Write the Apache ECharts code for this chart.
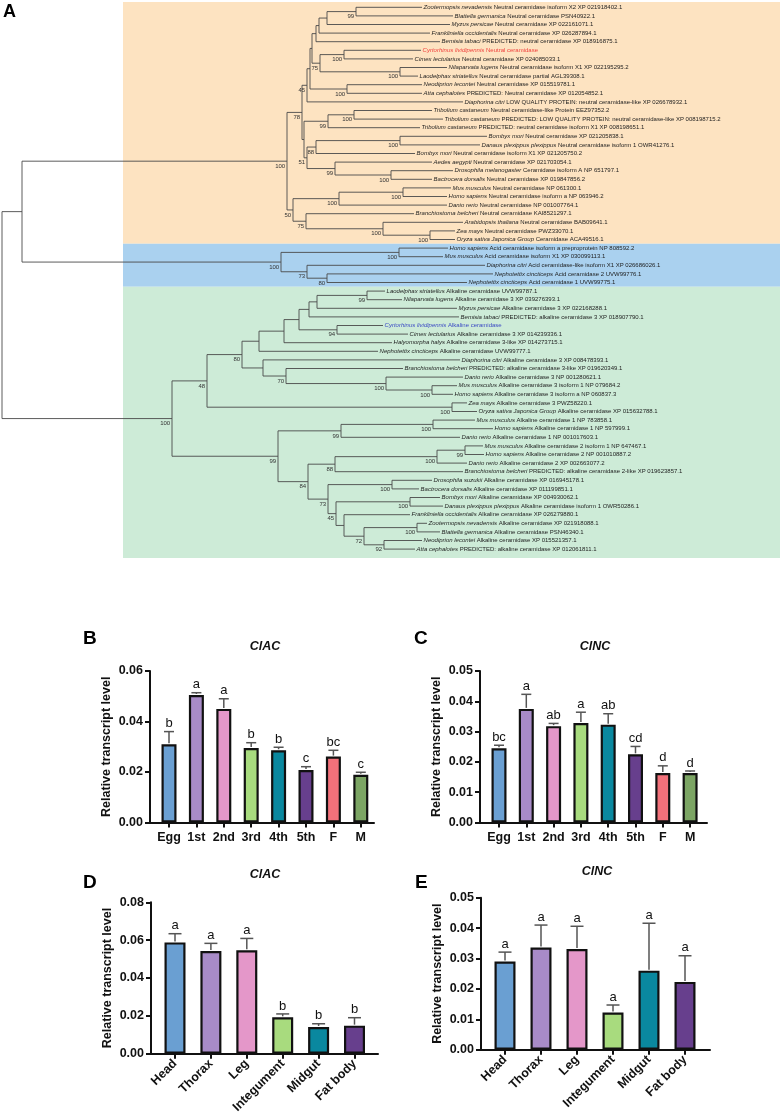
<!DOCTYPE html>
<html>
<head>
<meta charset="utf-8">
<title>Ceramidase phylogeny and expression</title>
<script src="https://cdn.jsdelivr.net/npm/echarts@6.0.0/dist/echarts.min.js"></script>
<style>
html,body{margin:0;padding:0;background:#ffffff;}
#chart{width:782px;height:1116px;}
</style>
</head>
<body>
<div id="chart"></div>
<script>
// ================= Panel A : phylogeny data =================
const leafSpecies = [
  'Zootermopsis nevadensis','Blattella germanica','Myzus persicae','Frankliniella occidentalis','Bemisia tabaci',
  'Cyrtorhinus lividipennis','Cimex lectularius','Nilaparvata lugens','Laodelphax striatellus','Neodiprion lecontei',
  'Atta cephalotes','Diaphorina citri','Tribolium castaneum','Tribolium castaneum','Tribolium castaneum',
  'Bombyx mori','Danaus plexippus plexippus','Bombyx mori','Aedes aegypti','Drosophila melanogaster',
  'Bactrocera dorsalis','Mus musculus','Homo sapiens','Danio rerio','Branchiostoma belcheri',
  'Arabidopsis thaliana','Zea mays','Oryza sativa Japonica Group',
  'Homo sapiens','Mus musculus','Diaphorina citri','Nephotettix cincticeps','Nephotettix cincticeps',
  'Laodelphax striatellus','Nilaparvata lugens','Myzus persicae','Bemisia tabaci','Cyrtorhinus lividipennis',
  'Cimex lectularius','Halyomorpha halys','Nephotettix cincticeps','Diaphorina citri','Branchiostoma belcheri',
  'Danio rerio','Mus musculus','Homo sapiens','Zea mays','Oryza sativa Japonica Group',
  'Mus musculus','Homo sapiens','Danio rerio','Mus musculus','Homo sapiens',
  'Danio rerio','Branchiostoma belcheri','Drosophila suzukii','Bactrocera dorsalis','Bombyx mori',
  'Danaus plexippus plexippus','Frankliniella occidentalis','Zootermopsis nevadensis','Blattella germanica','Neodiprion lecontei',
  'Atta cephalotes'
];
const leafDesc = [
  'Neutral ceramidase isoform X2 XP 021918402.1','Neutral ceramidase PSN40922.1','Neutral ceramidase XP 022161071.1',
  'Neutral ceramidase XP 026287894.1','PREDICTED: neutral ceramidase XP 018916875.1','Neutral ceramidase',
  'Neutral ceramidase XP 024085033.1','Neutral ceramidase isoform X1 XP 022195295.2','Neutral ceramidase partial AGL39308.1',
  'Neutral ceramidase XP 015519781.1','PREDICTED: Neutral ceramidase XP 012054852.1',
  'LOW QUALITY PROTEIN: neutral ceramidase-like XP 026678932.1','Neutral ceramidase-like Protein EEZ97352.2',
  'PREDICTED: LOW QUALITY PROTEIN: neutral ceramidase-like XP 008198715.2','PREDICTED: neutral ceramidase isoform X1 XP 008198651.1',
  'Neutral ceramidase XP 021205838.1','Neutral ceramidase isoform 1 OWR41276.1','Neutral ceramidase isoform X1 XP 021205750.2',
  'Neutral ceramidase XP 021703054.1','Ceramidase isoform A NP 651797.1','Neutral ceramidase XP 019847856.2',
  'Neutral ceramidase NP 061300.1','Neutral ceramidase isoform a NP 063946.2','Neutral ceramidase NP 001007764.1',
  'Neutral ceramidase KAI8521297.1','Neutral ceramidase BAB09641.1','Neutral ceramidase PWZ33070.1','Ceramidase ACA49516.1',
  'Acid ceramidase isoform a preproprotein NP 808592.2','Acid ceramidase isoform X1 XP 030099113.1',
  'Acid ceramidase-like isoform X1 XP 026686026.1','Acid ceramidase 2 UVW99776.1','Acid ceramidase 1 UVW99775.1',
  'Alkaline ceramidase UVW99787.1','Alkaline ceramidase 3 XP 039276393.1','Alkaline ceramidase 3 XP 022168288.1',
  'PREDICTED: alkaline ceramidase 3 XP 018907790.1','Alkaline ceramidase','Alkaline ceramidase 3 XP 014239336.1',
  'Alkaline ceramidase 3-like XP 014273715.1','Alkaline ceramidase UVW99777.1','Alkaline ceramidase 3 XP 008478393.1',
  'PREDICTED: alkaline ceramidase 3-like XP 019620349.1','Alkaline ceramidase 3 NP 001280621.1',
  'Alkaline ceramidase 3 isoform 1 NP 079684.2','Alkaline ceramidase 3 isoform a NP 060837.3','Alkaline ceramidase 3 PWZ58220.1',
  'Alkaline ceramidase XP 015632788.1','Alkaline ceramidase 1 NP 783858.1','Alkaline ceramidase 1 NP 597999.1',
  'Alkaline ceramidase 1 NP 001017603.1','Alkaline ceramidase 2 isoform 1 NP 647467.1','Alkaline ceramidase 2 NP 001010887.2',
  'Alkaline ceramidase 2 XP 002663077.2','PREDICTED: alkaline ceramidase 2-like XP 019623857.1',
  'Alkaline ceramidase XP 016945178.1','Alkaline ceramidase XP 011199851.1','Alkaline ceramidase XP 004930062.1',
  'Alkaline ceramidase isoform 1 OWR50286.1','Alkaline ceramidase XP 026279880.1','Alkaline ceramidase XP 021918088.1',
  'Alkaline ceramidase PSN46340.1','Alkaline ceramidase XP 015521357.1','PREDICTED: alkaline ceramidase XP 012061811.1'
];
const highlightLeaves = {5:'#f0433f', 37:'#3c4bc4'};

// Newick pieces: leaves are indices into the arrays above, branch lengths in display units,
// internal labels are bootstrap values.
const nwNeutralW  = '(((((0:66,1:97)99:29,2:123):8,3:111):3,4:124):4,((5:77,6:69)100:24,(7:47,8:18)100:80)75:8):2';
const nwNeutral45 = `((${nwNeutralW},(9:75,10:75)100:37):3,11:156)45:5`;
const nwNeutralTL = '(((12:78,13:89)100:26,14:92)99:24,(((15:87,16:80)100:84,17:99)88:9,(18:97,(19:62,20:41)100:56)99:28)51:3):2';
const nwNeutral50 = '(((21:48,22:44)100:64,23:108)100:46,(24:108,(25:80,(26:25,27:25)100:47)100:77)75:13)50:6';
const nwNeutral   = `((${nwNeutral45},${nwNeutralTL})78:15,${nwNeutral50})100:265`;
const nwAcid      = '((28:49,29:44)100:118,(30:178,(31:166,32:140)80:20)73:26)100:259';
const nwAlk259    = '((((((33:18,34:35)99:50,35:140):8,36:150):10,(37:46,38:71)94:38):15,39:108):25,40:119):17';
const nwAlk263    = '(41:197,(42:117,(43:77,(44:25,45:21)100:46)100:100)70:23):21';
const nwAlk48     = `((${nwAlk259},${nwAlk263})80:35,(46:15,47:25)100:245)48:35`;
const nwAlk99     = '((48:42,49:60)100:92,50:119)99:63';
const nwAlk88     = '(((51:18,52:19)99:28,53:30)100:102,54:128)88:27';
const nwAlk73     = '((55:40,56:27)100:64,((57:30,58:33)100:74,(59:66,((60:10,61:23)100:53,(62:38,63:31)92:20)72:20):8)45:8)73:20';
const nwAlkaline  = `(${nwAlk48},(${nwAlk99},(${nwAlk88},${nwAlk73})84:30)99:106)100:170`;
const newickTree  = `((${nwNeutral},${nwAcid}):20,${nwAlkaline});`;

const cladeBands = [
  {first:0,  last:27, color:'#fde3c1'},
  {first:28, last:32, color:'#aad1ef'},
  {first:33, last:63, color:'#cdebd7'}
];

// ================= Panels B-E : expression data =================
const stageCats  = ['Egg','1st','2nd','3rd','4th','5th','F','M'];
const tissueCats = ['Head','Thorax','Leg','Integument','Midgut','Fat body'];
const barColors  = ['#6a9fd2','#a88bc8','#e497c9','#a8db7e','#0a889f','#673f8d','#f2717a','#7ca564'];

const clacStageMean = [0.0310,0.0505,0.0450,0.0295,0.0286,0.0208,0.0261,0.0189];
const clacStageSd   = [0.0050,0.0009,0.0040,0.0021,0.0012,0.0013,0.0025,0.0010];
const clacStageSig  = ['b','a','a','b','b','c','bc','c'];

const clncStageMean = [0.0245,0.0375,0.0318,0.0328,0.0323,0.0225,0.0163,0.0163];
const clncStageSd   = [0.0010,0.0048,0.0009,0.0036,0.0036,0.0026,0.0024,0.0007];
const clncStageSig  = ['bc','a','ab','a','ab','cd','d','d'];

const clacTissueMean = [0.0588,0.0542,0.0546,0.0192,0.0141,0.0148];
const clacTissueSd   = [0.0046,0.0041,0.0063,0.0018,0.0017,0.0042];
const clacTissueSig  = ['a','a','a','b','b','b'];

const clncTissueMean = [0.0290,0.0336,0.0331,0.0122,0.0260,0.0223];
const clncTissueSd   = [0.0031,0.0074,0.0075,0.0025,0.0156,0.0086];
const clncTissueSig  = ['a','a','a','a','a','a'];

// ================= building =================
const FONT = "'Liberation Sans', Arial, Helvetica, sans-serif";

function parseNewick(s){
  let i = 0;
  function node(){
    const n = {children:[]};
    if (s[i] === '('){
      i++;
      while (true){
        n.children.push(node());
        if (s[i] === ','){ i++; continue; }
        break;
      }
      i++; // ')'
    }
    let lab = '';
    while (i < s.length && !',():;'.includes(s[i])) lab += s[i++];
    let len = 0;
    if (s[i] === ':'){
      i++; let t = '';
      while (i < s.length && !',();'.includes(s[i])) t += s[i++];
      len = parseFloat(t);
    }
    n.label = lab; n.len = len;
    return n;
  }
  return node();
}

const treeNodes = [];
function layout(n, depth, parentDepth){
  n.x = depth; n.px = parentDepth;
  if (n.children.length){
    n.children.forEach(c => layout(c, depth + c.len, depth));
    n.y0 = n.children[0].y; n.y1 = n.children[n.children.length-1].y;
    n.y = (n.y0 + n.y1) / 2;
    n.leaf = -1; n.bs = n.label;
  } else {
    n.leaf = parseInt(n.label, 10); n.y = n.leaf; n.bs = '';
  }
  treeNodes.push(n);
}
const treeRoot = parseNewick(newickTree);
layout(treeRoot, 0, 0);

const lineStyle = {stroke:'#4a4a4a', lineWidth:0.9};
function renderTree(params, api){
  const n = treeNodes[params.dataIndex];
  const p = api.coord([n.x, n.y]);
  const pp = api.coord([n.px, n.y]);
  const ch = [];
  if (n.px !== n.x) ch.push({type:'line', shape:{x1:pp[0], y1:p[1], x2:p[0], y2:p[1]}, style:lineStyle});
  if (n.leaf < 0){
    const a = api.coord([n.x, n.y0]), b = api.coord([n.x, n.y1]);
    ch.push({type:'line', shape:{x1:p[0], y1:a[1], x2:p[0], y2:b[1]}, style:lineStyle});
    if (n.bs){
      ch.push({type:'text', x:p[0]-1.8, y:p[1]+5, style:{text:n.bs, fill:'#333', fontSize:6, fontFamily:FONT,
        textAlign:'right', textVerticalAlign:'middle'}});
    }
  } else {
    const col = highlightLeaves[n.leaf] || '#1e1e1e';
    ch.push({type:'text', x:p[0]+1.6, y:p[1], style:{
      text:'{s|' + leafSpecies[n.leaf] + '} ' + leafDesc[n.leaf],
      fill:col, fontSize:6, fontFamily:FONT, textAlign:'left', textVerticalAlign:'middle',
      rich:{s:{fontStyle:'italic', fontSize:6, fontFamily:FONT, fill:col}}
    }});
  }
  return {type:'group', children:ch};
}

function renderBands(params, api){
  const i = params.dataIndex, b = cladeBands[i];
  const t  = i === 0 ? b.first - 0.62 : b.first - 0.5;
  const bt = i === cladeBands.length - 1 ? b.last + 1.04 : b.last + 0.5;
  const p0 = api.coord([121, t]), p1 = api.coord([778, bt]);
  return {type:'rect', shape:{x:p0[0], y:p0[1], width:p1[0]-p0[0], height:p1[1]-p0[1]}, style:{fill:b.color}};
}

const option = {
  animation:false, backgroundColor:'#ffffff',
  grid:[{left:2, top:7.3, width:780, height:541.8}],
  xAxis:[{type:'value', gridIndex:0, min:0, max:780, show:false}],
  yAxis:[{type:'value', gridIndex:0, min:0, max:63, inverse:true, show:false}],
  series:[
    {type:'custom', coordinateSystem:'cartesian2d', xAxisIndex:0, yAxisIndex:0, z:1, silent:true,
     data:cladeBands.map(b => [b.first, b.last]), renderItem:renderBands},
    {type:'custom', coordinateSystem:'cartesian2d', xAxisIndex:0, yAxisIndex:0, z:2, silent:true,
     data:treeNodes.map(n => [n.x, n.y]), renderItem:renderTree}
  ],
  graphic:[
    {type:'text', x:3, y:12, style:{text:'A', font:'bold 18px ' + FONT, fill:'#000', textAlign:'left', textVerticalAlign:'middle'}}
  ]
};

const panels = [
  {cats:stageCats, mean:clacStageMean, sd:clacStageSd, sig:clacStageSig, title:'ClAC', tag:'B',
   axisX:150, firstC:169, band:27.4, axisEnd:374, top:671, bottom:822.5, max:0.06, step:0.02,
   barW:15, cap:5, rotate:0, tagX:83, tagY:639, titleX:265, titleY:647},
  {cats:stageCats, mean:clncStageMean, sd:clncStageSd, sig:clncStageSig, title:'ClNC', tag:'C',
   axisX:480, firstC:499, band:27.3, axisEnd:707, top:671, bottom:822.5, max:0.05, step:0.01,
   barW:15, cap:5, rotate:0, tagX:414, tagY:639, titleX:595, titleY:647},
  {cats:tissueCats, mean:clacTissueMean, sd:clacTissueSd, sig:clacTissueSig, title:'ClAC', tag:'D',
   axisX:151, firstC:175, band:35.9, axisEnd:378, top:902.3, bottom:1053.7, max:0.08, step:0.02,
   barW:21, cap:6.5, rotate:45, tagX:83, tagY:883, titleX:265, titleY:875},
  {cats:tissueCats, mean:clncTissueMean, sd:clncTissueSd, sig:clncTissueSig, title:'ClNC', tag:'E',
   axisX:481, firstC:505, band:36, axisEnd:710, top:897.7, bottom:1049.7, max:0.05, step:0.01,
   barW:21, cap:6.5, rotate:45, tagX:415, tagY:883, titleX:597, titleY:872}
];

panels.forEach(P => {
  const h = P.bottom - P.top;
  const gH = option.grid.length;
  option.grid.push({left:P.axisX, top:P.top, width:P.axisEnd - P.axisX, height:h});
  option.xAxis.push({type:'value', gridIndex:gH, min:0, max:1,
    axisLine:{show:true, lineStyle:{color:'#111', width:2}}, axisTick:{show:false}, axisLabel:{show:false}, splitLine:{show:false}});
  option.yAxis.push({type:'value', gridIndex:gH, min:0, max:P.max, interval:P.step,
    axisLine:{show:true, lineStyle:{color:'#111', width:2}},
    axisTick:{show:true, length:5, lineStyle:{color:'#111', width:2}},
    axisLabel:{margin:7, color:'#111', fontWeight:'bold', fontSize:12.5, fontFamily:FONT, formatter:v => v.toFixed(2)},
    splitLine:{show:false},
    name:'Relative transcript level', nameLocation:'middle', nameGap:36.5,
    nameTextStyle:{color:'#111', fontWeight:'bold', fontSize:12.5, fontFamily:FONT}});
  const gM = option.grid.length;
  option.grid.push({left:P.firstC - P.band/2, top:P.top, width:P.band * P.cats.length, height:h});
  option.xAxis.push({type:'category', gridIndex:gM, data:P.cats,
    axisLine:{show:false},
    axisTick:{show:true, alignWithLabel:true, length:5, lineStyle:{color:'#111', width:2}},
    axisLabel:{interval:0, rotate:P.rotate, margin:P.rotate ? 8 : 9, color:'#111', fontWeight:'bold', fontSize:12.5, fontFamily:FONT},
    splitLine:{show:false}});
  option.yAxis.push({type:'value', gridIndex:gM, min:0, max:P.max, show:false});
  option.series.push({type:'bar', xAxisIndex:gM, yAxisIndex:gM, barWidth:P.barW, z:2,
    data:P.mean.map((v, i) => ({value:v, itemStyle:{color:barColors[i]}})),
    itemStyle:{borderColor:'#111', borderWidth:2.2}});
  option.series.push({type:'custom', coordinateSystem:'cartesian2d', xAxisIndex:gM, yAxisIndex:gM, z:3, silent:true,
    data:P.mean.map((v, i) => [i, v, v + P.sd[i]]),
    renderItem:(params, api) => {
      const i = params.dataIndex;
      const b = api.coord([api.value(0), api.value(1)]);
      const t = api.coord([api.value(0), api.value(2)]);
      const st = {stroke:'#555', lineWidth:1.5};
      return {type:'group', children:[
        {type:'line', shape:{x1:b[0], y1:b[1]-1, x2:b[0], y2:t[1]}, style:st},
        {type:'line', shape:{x1:b[0]-P.cap, y1:t[1], x2:b[0]+P.cap, y2:t[1]}, style:st},
        {type:'text', x:b[0], y:t[1]-1.5, style:{text:P.sig[i], fill:'#111', fontSize:13, fontFamily:FONT,
          textAlign:'center', textVerticalAlign:'bottom'}}
      ]};
    }});
  option.graphic.push({type:'text', x:P.tagX, y:P.tagY, style:{text:P.tag, font:'bold 19px ' + FONT, fill:'#000',
    textAlign:'left', textVerticalAlign:'middle'}});
  option.graphic.push({type:'text', x:P.titleX, y:P.titleY, style:{text:P.title, font:'italic bold 12.5px ' + FONT, fill:'#111',
    textAlign:'center', textVerticalAlign:'middle'}});
});

const chart = echarts.init(document.getElementById('chart'), null, {renderer:'canvas'});
chart.setOption(option);
</script>
</body>
</html>
